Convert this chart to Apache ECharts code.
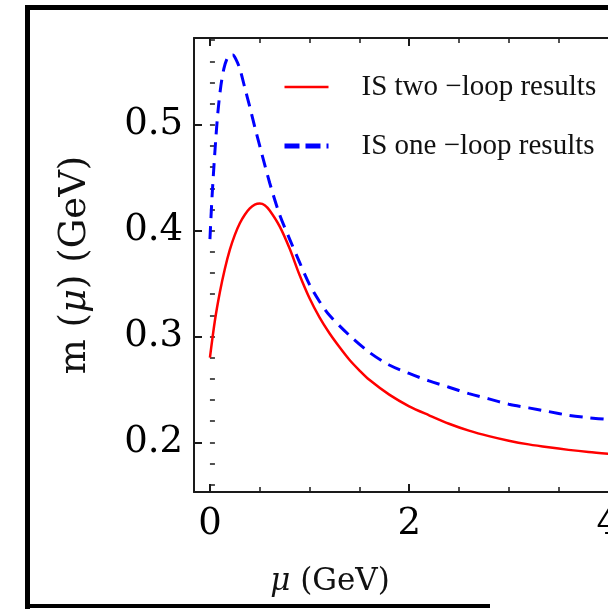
<!DOCTYPE html>
<html>
<head>
<meta charset="utf-8">
<script src="https://cdn.jsdelivr.net/npm/echarts@6/dist/echarts.min.js"></script>
<style>
html,body{margin:0;padding:0;background:#fff;}
#chart{width:608px;height:611px;}
</style>
</head>
<body>
<div id="chart"></div>
<script>
// ---- data ----
var muTwoLoop = [0, 0.05, 0.1, 0.15, 0.2, 0.25, 0.3, 0.35, 0.4, 0.45, 0.5, 0.55, 0.6, 0.7, 0.8, 0.9, 1.0, 1.1, 1.2, 1.3, 1.4, 1.5, 1.6, 1.8, 2.0, 2.2, 2.4, 2.6, 2.8, 3.0, 3.2, 3.4, 3.6, 3.8, 4.0, 4.5, 5.0];
var twoLoop   = [0.280, 0.315, 0.342, 0.364, 0.382, 0.396, 0.407, 0.415, 0.421, 0.4245, 0.4255, 0.424, 0.419, 0.404, 0.383, 0.358, 0.336, 0.318, 0.303, 0.290, 0.278, 0.268, 0.259, 0.245, 0.234, 0.2255, 0.2175, 0.211, 0.2058, 0.2015, 0.198, 0.1952, 0.1928, 0.1908, 0.1892, 0.1855, 0.1825];
var muOneLoop = [0, 0.02, 0.05, 0.08, 0.11, 0.14, 0.17, 0.2, 0.23, 0.26, 0.3, 0.35, 0.4, 0.45, 0.5, 0.6, 0.7, 0.8, 0.9, 1.0, 1.1, 1.2, 1.4, 1.6, 1.8, 2.0, 2.2, 2.4, 2.6, 2.8, 3.0, 3.2, 3.4, 3.6, 3.8, 4.0, 4.5, 5.0];
var oneLoop   = [0.392, 0.430, 0.475, 0.512, 0.537, 0.553, 0.562, 0.566, 0.566, 0.562, 0.553, 0.535, 0.517, 0.498, 0.480, 0.445, 0.415, 0.392, 0.370, 0.349, 0.333, 0.320, 0.301, 0.285, 0.273, 0.265, 0.258, 0.252, 0.246, 0.241, 0.236, 0.2325, 0.229, 0.2255, 0.2232, 0.2215, 0.2175, 0.2145];
var seriesNames = ['IS two \u2212loop results', 'IS one \u2212loop results'];

var xMajorTicks = [0, 2, 4];
var xMinorTicks = [0, 0.5, 1, 1.5, 2, 2.5, 3, 3.5, 4, 4.5, 5];
var yMajorTicks = [0.2, 0.3, 0.4, 0.5];
var yMinorTicks = [0.16, 0.18, 0.2, 0.22, 0.24, 0.26, 0.28, 0.3, 0.32, 0.34, 0.36, 0.38, 0.4, 0.42, 0.44, 0.46, 0.48, 0.5, 0.52, 0.54, 0.56, 0.58];

function zip(xs, ys) { return xs.map(function (x, i) { return [x, ys[i]]; }); }

var X_MIN = -0.16, X_MAX = 5.0, Y_MIN = 0.153, Y_MAX = 0.582;
var AX = '#1a1a1a';
var labelFont = 'DejaVu Serif';

function xAx(pos, major, showLabel) {
  return {
    type: 'value', position: pos, min: X_MIN, max: X_MAX, gridIndex: 0,
    axisLine: { show: major, onZero: false, lineStyle: { color: AX, width: 2 } },
    splitLine: { show: false },
    axisTick: { show: true, inside: true, length: major ? 8 : 5, customValues: major ? xMajorTicks : xMinorTicks, lineStyle: { color: AX, width: major ? 2 : 1.5 } },
    axisLabel: { show: showLabel, customValues: xMajorTicks, margin: 14, fontFamily: labelFont, fontSize: 37, color: '#000' }
  };
}

var chart = echarts.init(document.getElementById('chart'), null, { renderer: 'canvas' });
var option = {
  animation: false,
  backgroundColor: '#fff',
  grid: { left: 194, top: 38, width: 514, height: 454, containLabel: false, outerBoundsMode: 'none' },
  legend: {
    orient: 'vertical', left: 277, top: 67,
    itemWidth: 44, itemHeight: 14, itemGap: 29,
    itemStyle: { opacity: 0 },
    textStyle: { fontFamily: 'Liberation Serif', fontSize: 29, color: '#111', lineHeight: 30, padding: [0, 0, 0, 28] },
    data: [
      { name: seriesNames[0], lineStyle: { width: 2.5 }, itemStyle: { opacity: 0 } },
      { name: seriesNames[1], lineStyle: { width: 5, type: [15, 6] }, itemStyle: { opacity: 0 } }
    ]
  },
  xAxis: [
    Object.assign(xAx('bottom', true, true), {
      name: '{i|\u03bc} (GeV)', nameLocation: 'middle', nameGap: 74,
      nameTextStyle: { fontFamily: labelFont, fontSize: 31, color: '#111', padding: [0, 242, 0, 0],
        rich: { i: { fontFamily: labelFont, fontStyle: 'italic', fontSize: 31, color: '#111' } } }
    }),
    xAx('bottom', false, false),
    xAx('top', true, false),
    xAx('top', false, false)
  ],
  yAxis: [
    {
      type: 'value', position: 'left', min: Y_MIN, max: Y_MAX,
      axisLine: { show: true, onZero: false, lineStyle: { color: AX, width: 2 } },
      splitLine: { show: false },
      axisTick: { show: true, inside: true, length: 8, customValues: yMajorTicks, lineStyle: { color: AX, width: 2 } },
      axisLabel: { customValues: yMajorTicks, margin: 11, fontFamily: labelFont, fontSize: 37, color: '#000',
        formatter: function (v) { return v.toFixed(1); } },
      name: 'm ({i|\u03bc}) (GeV)', nameLocation: 'middle', nameRotate: 90, nameGap: 100,
      nameTextStyle: { fontFamily: labelFont, fontSize: 37, color: '#111',
        rich: { i: { fontFamily: labelFont, fontStyle: 'italic', fontSize: 37, color: '#111' } } }
    },
    {
      type: 'value', position: 'left', min: Y_MIN, max: Y_MAX,
      axisLine: { show: false }, splitLine: { show: false },
      axisTick: { show: true, inside: true, length: 5, customValues: yMinorTicks, lineStyle: { color: AX, width: 1.5 } },
      axisLabel: { show: false }
    }
  ],
  series: [
    {
      name: seriesNames[0], type: 'line', xAxisIndex: 0, yAxisIndex: 0,
      data: zip(muTwoLoop, twoLoop), smooth: 0.3, symbol: 'none',
      lineStyle: { color: '#ff0000', width: 2.5 }, itemStyle: { color: '#ff0000' }
    },
    {
      name: seriesNames[1], type: 'line', xAxisIndex: 0, yAxisIndex: 0,
      data: zip(muOneLoop, oneLoop), smooth: 0.3, symbol: 'none',
      lineStyle: { color: '#0000ff', width: 3, type: [13, 8] }, itemStyle: { color: '#0000ff' }
    }
  ],
  graphic: [
    { type: 'rect', shape: { x: 25, y: 5, width: 583, height: 5 }, style: { fill: '#000' }, silent: true },
    { type: 'rect', shape: { x: 25, y: 5, width: 5, height: 604 }, style: { fill: '#000' }, silent: true },
    { type: 'rect', shape: { x: 25, y: 604, width: 465, height: 4 }, style: { fill: '#000' }, silent: true }
  ]
};
chart.setOption(option);
</script>
</body>
</html>
